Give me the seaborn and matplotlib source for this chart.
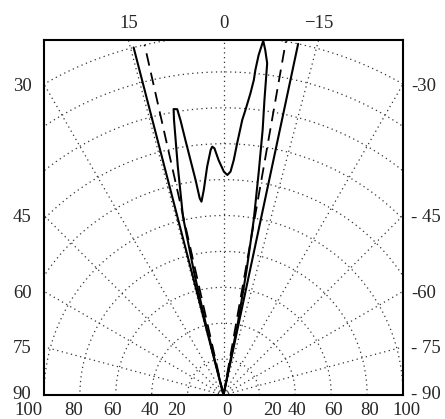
import numpy as np
import pandas as pd
import matplotlib.pyplot as plt
import seaborn as sns

# Angles in degrees from the vertical (positive = left), radius in plot units
pattern_theta = [14.0, 14.0, 13.5, 12.8, 11.3, 10.2, 9.9, 9.2, 8.9, 8.5, 8.0, 7.4, 6.9, 6.5,
                 5.5, 4.1, 3.0, 2.6, 2.1, 1.2, -0.1, -1.0, -1.8, -2.5, -3.1, -3.9, -4.4,
                 -5.1, -5.5, -5.6, -5.9, -6.4, -6.9, -7.5, -7.9, -8.4, -9.0, -9.8, -10.5,
                 -11.3, -12.0]
pattern_r = [0, 40, 70, 102, 130, 155.7, 161.7, 161.3, 155.0, 143.6, 132.2, 120.8, 110.4, 108.4,
             114.7, 127.5, 136.7, 138.5, 137.5, 130.9, 124.4, 122.6, 124.5, 131.0, 140.4, 153.6,
             159.2, 168.7, 176.3, 181.9, 190.4, 198.6, 193.6, 186.4, 166.0, 149.3, 125.0, 99.0,
             70.0, 40.0, 0]

# Beam edge rays
ray_theta = [14.5, 12.7, -10.0, -12.0]
ray_style = ['solid', 'dashed', 'dashed', 'solid']
ray_len = 200

# Grid
ring_r = np.arange(20, 201, 20)
spoke_deg = np.arange(-90, 91, 15)

# Tick labels
bottom_labels = ['100', '80', '60', '40', '20', '0', '20', '40', '60', '80', '100']
bottom_pos = [-108.6, -83.6, -61.8, -41.2, -26.2, 1.7, 27.3, 40.7, 61.3, 81.3, 102.0]
side_deg = [30, 45, 60, 75, 90]
left_labels = ['30', '45', '60', '75', '90']
right_labels = ['-30', '- 45', '-60', '- 75', '- 90']
top_deg = [15, 0, -15]
top_labels = ['15', '0', '\u221215']


def to_xy(theta, r):
    t = np.radians(np.asarray(theta, dtype=float))
    r = np.asarray(r, dtype=float)
    return -r * np.sin(t), r * np.cos(t)


sns.set_style('white')
plt.rcParams['font.family'] = ['Liberation Serif', 'DejaVu Serif']

fig = plt.figure(figsize=(4.45, 4.19), dpi=100)
ax = fig.add_axes([44 / 445, 1 - 395 / 419, 359 / 445, 355 / 419])
xmax = 100
ymax = 355 / 359 * 200
ax.set_xlim(-xmax, xmax)
ax.set_ylim(0, ymax)

grid_kw = dict(color='0.2', lw=0.9, linestyle=(0, (1, 2.8)), zorder=1)
arc = np.linspace(-90, 90, 400)
for r in ring_r:
    gx, gy = to_xy(arc, np.full_like(arc, r))
    ax.plot(gx, gy, **grid_kw)
for d in spoke_deg:
    gx, gy = to_xy([d, d], [0, 300])
    ax.plot(gx, gy, **grid_kw)

# rays
for th, ls in zip(ray_theta, ray_style):
    rx, ry = to_xy([th, th], [0, ray_len])
    df_ray = pd.DataFrame({'x': rx, 'y': ry})
    if ls == 'dashed':
        sns.lineplot(data=df_ray, x='x', y='y', sort=False, estimator=None, ax=ax,
                     color='black', lw=1.3, linestyle=(0, (7, 4)), zorder=3)
    else:
        sns.lineplot(data=df_ray, x='x', y='y', sort=False, estimator=None, ax=ax,
                     color='black', lw=1.5, zorder=3)

# measured pattern
px, py = to_xy(pattern_theta, pattern_r)
df_pat = pd.DataFrame({'x': px, 'y': py})
sns.lineplot(data=df_pat, x='x', y='y', sort=False, estimator=None, ax=ax,
             color='black', lw=1.5, zorder=4)

ax.set_xlabel('')
ax.set_ylabel('')
for s in ax.spines.values():
    s.set_visible(True)
    s.set_color('black')
    s.set_linewidth(1.5)

fs = 13.5
ax.set_xticks([])
side_y = [xmax / np.tan(np.radians(d)) for d in side_deg]
side_y[-1] += 1.5   # lift the "90" label slightly off the bottom labels
ax.set_yticks(side_y)
ax.set_yticklabels(left_labels, fontsize=fs)
ax.tick_params(axis='y', length=0, pad=9)

sec_r = ax.secondary_yaxis('right')
sec_r.set_yticks(side_y)
sec_r.set_yticklabels(right_labels, fontsize=fs)
sec_r.tick_params(length=0, pad=6)
sec_r.spines['right'].set_visible(False)

top_x = [-ymax * np.tan(np.radians(d)) for d in top_deg]
sec_t = ax.secondary_xaxis('top')
sec_t.set_xticks(top_x)
sec_t.set_xticklabels(top_labels, fontsize=fs)
sec_t.tick_params(length=0, pad=6)
sec_t.spines['top'].set_visible(False)

trans = ax.get_xaxis_transform()
for xp, lab in zip(bottom_pos, bottom_labels):
    ax.text(xp, -0.02, lab, transform=trans, ha='center', va='top', fontsize=fs, clip_on=False)

fig.savefig('out.png', dpi=100)
